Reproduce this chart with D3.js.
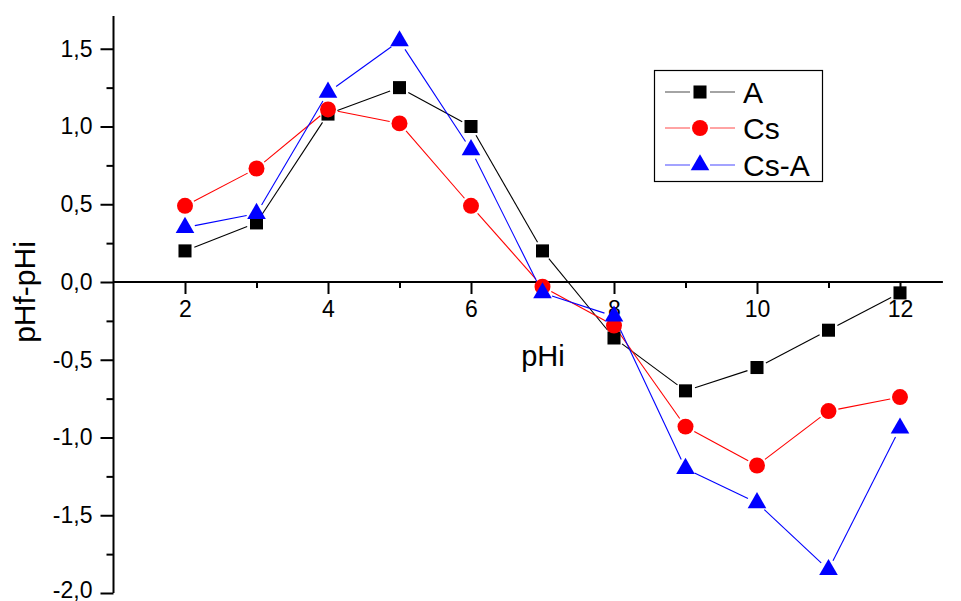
<!DOCTYPE html>
<html>
<head>
<meta charset="utf-8">
<script src="https://cdn.jsdelivr.net/npm/d3@7"></script>
<style>
  html, body { margin: 0; padding: 0; background: #fff; }
  svg { display: block; font-family: "Liberation Sans", Arial, sans-serif; }
</style>
</head>
<body>
<svg id="chart" width="961" height="601"></svg>
<script>
// pH values of the initial solutions
const phInitial = [2, 3, 4, 5, 6, 7, 8, 9, 10, 11, 12];

// pHf - pHi for each adsorbent
const seriesA    = [0.20, 0.38, 1.08, 1.25, 1.00, 0.20, -0.36, -0.70, -0.55, -0.31, -0.07];
const seriesCs   = [0.49, 0.73, 1.11, 1.02, 0.49, -0.03, -0.28, -0.93, -1.18, -0.83, -0.74];
const seriesCsA  = [0.35, 0.44, 1.22, 1.55, 0.85, -0.07, -0.22, -1.20, -1.42, -1.85, -0.94];

const seriesNames = ["A", "Cs", "Cs-A"];
const seriesColors = ["#000000", "#ff0000", "#0000ff"];
const seriesSymbols = [d3.symbolSquare, d3.symbolCircle, d3.symbolTriangle];

const xMajorTicks = [2, 4, 6, 8, 10, 12];
const xMinorTicks = [3, 5, 7, 9, 11];
const yMajorTicks = [-2.0, -1.5, -1.0, -0.5, 0.0, 0.5, 1.0, 1.5];
const yMinorTicks = [-1.75, -1.25, -0.75, -0.25, 0.25, 0.75, 1.25];

const xTitle = "pHi";
const yTitle = "pHf-pHi";

const svg = d3.select("#chart");

const x = d3.scaleLinear().domain([1, 12.6]).range([113.5, 942.9]);
const y = d3.scaleLinear().domain([-2, 1.71]).range([593, 16.1]);

const fmt = v => d3.format(".1f")(v).replace(".", ",").replace("−", "-");

// ---- axes ----
const axisG = svg.append("g");

// x axis sits on y = 0
const xAxisY = y(0);
const xMajor = d3.axisBottom(x).tickValues(xMajorTicks).tickSize(12).tickPadding(7)
  .tickFormat(d3.format("d"));
const xMinor = d3.axisBottom(x).tickValues(xMinorTicks).tickSize(6).tickFormat("");

const gxMinor = axisG.append("g").attr("transform", `translate(0,${xAxisY})`).call(xMinor);
const gx = axisG.append("g").attr("transform", `translate(0,${xAxisY})`).call(xMajor);

const yMajor = d3.axisLeft(y).tickValues(yMajorTicks).tickSize(13).tickPadding(8).tickFormat(fmt);
const yMinor = d3.axisLeft(y).tickValues(yMinorTicks).tickSize(7).tickFormat("");
const gyMinor = axisG.append("g").attr("transform", `translate(${x(1)},0)`).call(yMinor);
const gy = axisG.append("g").attr("transform", `translate(${x(1)},0)`).call(yMajor);

[gx, gxMinor, gy, gyMinor].forEach(g => {
  g.select(".domain").attr("stroke", "#000").attr("stroke-width", 2);
  g.selectAll(".tick line").attr("stroke", "#000").attr("stroke-width", 2);
  g.selectAll(".tick text").attr("fill", "#000").attr("font-size", 23)
    .attr("font-family", "'Liberation Sans', Arial, sans-serif");
});
gxMinor.select(".domain").remove();
gyMinor.select(".domain").remove();
// axis lines without end caps
gx.select(".domain").attr("d", `M${x(1)},0H${x(12.6)}`);
gy.select(".domain").attr("d", `M0,${y(1.71)}V${y(-2)}`);
// the lowest y label sits right at the bottom edge
gy.selectAll(".tick text").filter(d => d === -2).attr("dy", "0.2em");

// axis titles
svg.append("text")
  .attr("x", 543).attr("y", 366)
  .attr("text-anchor", "middle")
  .attr("font-size", 29)
  .text(xTitle);

svg.append("text")
  .attr("transform", `translate(35,${292}) rotate(-90)`)
  .attr("text-anchor", "middle")
  .attr("font-size", 30)
  .text(yTitle);

// ---- series ----
const allSeries = [seriesA, seriesCs, seriesCsA];
const symbolSizes = [170, 200, 150];
const gap = 10;

function shortened(p, q, g) {
  const dx = q[0] - p[0], dy = q[1] - p[1];
  const len = Math.hypot(dx, dy);
  if (len <= 2 * g) return null;
  const ux = dx / len, uy = dy / len;
  return [[p[0] + ux * g, p[1] + uy * g], [q[0] - ux * g, q[1] - uy * g]];
}

allSeries.forEach((vals, si) => {
  const pts = phInitial.map((ph, i) => [x(ph), y(vals[i])]);
  const g = svg.append("g");
  for (let i = 0; i < pts.length - 1; i++) {
    const seg = shortened(pts[i], pts[i + 1], gap);
    if (!seg) continue;
    g.append("line")
      .attr("x1", seg[0][0]).attr("y1", seg[0][1])
      .attr("x2", seg[1][0]).attr("y2", seg[1][1])
      .attr("stroke", seriesColors[si]).attr("stroke-width", 1.1);
  }
});

allSeries.forEach((vals, si) => {
  const sym = d3.symbol().type(seriesSymbols[si]).size(symbolSizes[si]);
  svg.append("g").selectAll("path")
    .data(vals)
    .join("path")
    .attr("transform", (d, i) => `translate(${x(phInitial[i])},${y(d)})`)
    .attr("d", sym)
    .attr("fill", seriesColors[si]);
});

// ---- legend ----
const legend = svg.append("g");
legend.append("rect")
  .attr("x", 654.5).attr("y", 70.5).attr("width", 168).attr("height", 111)
  .attr("fill", "#fff").attr("stroke", "#000").attr("stroke-width", 1.2);

const rowY = [92, 128, 165];
seriesNames.forEach((name, si) => {
  const ry = rowY[si];
  legend.append("line").attr("x1", 665).attr("x2", 690).attr("y1", ry).attr("y2", ry)
    .attr("stroke", seriesColors[si]).attr("stroke-opacity", 0.6).attr("stroke-width", 1.2);
  legend.append("line").attr("x1", 710).attr("x2", 735).attr("y1", ry).attr("y2", ry)
    .attr("stroke", seriesColors[si]).attr("stroke-opacity", 0.6).attr("stroke-width", 1.2);
  legend.append("path")
    .attr("transform", `translate(700,${ry})`)
    .attr("d", d3.symbol().type(seriesSymbols[si]).size(symbolSizes[si])())
    .attr("fill", seriesColors[si]);
  legend.append("text")
    .attr("x", 743).attr("y", ry)
    .attr("dy", "0.36em")
    .attr("font-size", 30)
    .text(name);
});
</script>
</body>
</html>
